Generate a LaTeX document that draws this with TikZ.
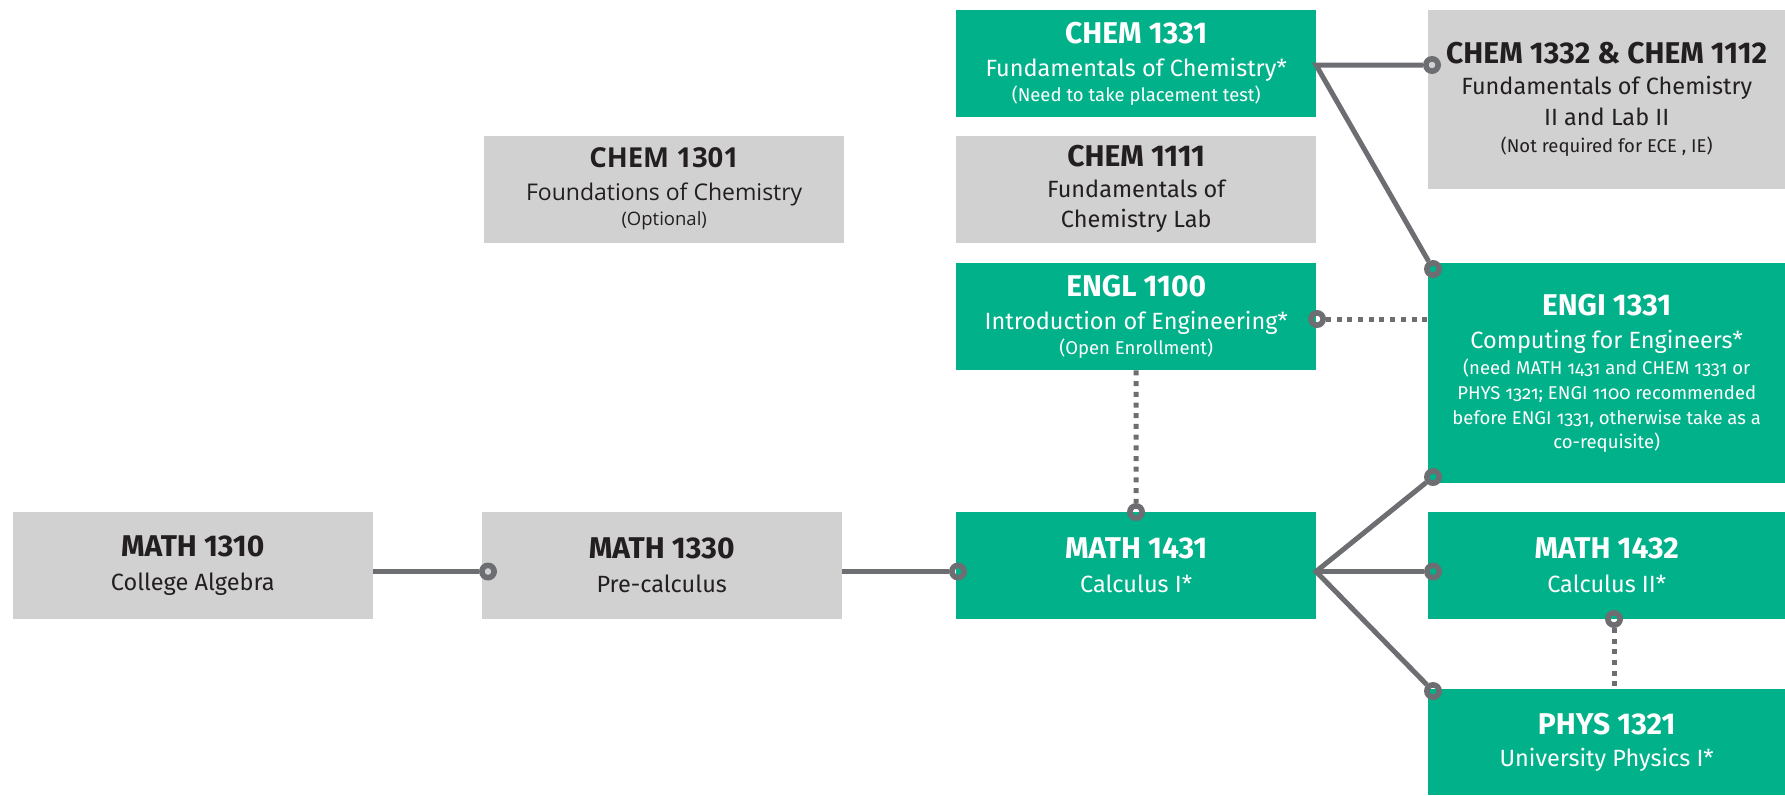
\documentclass[tikz,border=0pt]{standalone}
\usepackage{fontspec}
\setmainfont{Fira Sans}
\newfontfamily\opensans{Open Sans}
\definecolor{grn}{HTML}{00B18A}
\definecolor{gry}{HTML}{D1D1D1}
\definecolor{lnc}{HTML}{6D6E71}
\definecolor{txt}{HTML}{231F20}
\newcommand\ttl[1]{{\fontsize{30}{30}\selectfont\bfseries #1}}
\newcommand\sbt[1]{{\fontsize{23.5}{23.5}\selectfont #1}}
\newcommand\sml[1]{{\fontsize{18.5}{18.5}\selectfont\addfontfeatures{Numbers=OldStyle}#1}}
\newcommand\ottl[1]{{\fontsize{27.5}{27.5}\selectfont\bfseries #1}}
\newcommand\osbt[1]{{\fontsize{23}{23}\selectfont #1}}
\newcommand\osml[1]{{\fontsize{18.5}{18.5}\selectfont #1}}
\begin{document}
\begin{tikzpicture}[x=1pt,y=-1pt,
  box/.style={minimum width=360pt, minimum height=107pt, inner sep=0pt, align=center, anchor=north west, font=\fontsize{16}{25}\selectfont},
  gbox/.style={box, fill=grn, text=white},
  pbox/.style={box, fill=gry, text=txt},
  conn/.style={draw=lnc, line width=5pt, line join=miter},
  dots/.style={draw=lnc, line width=5pt, dash pattern=on 5pt off 5.7pt},
  ring/.style={draw=lnc, line width=5.6pt, circle, minimum size=12.3pt, inner sep=0pt}
]
\useasboundingbox (0,0) rectangle (1785,795);

% boxes
\node[pbox] (m1310) at (12.5,512) {\ttl{MATH 1310}\\[9pt]\sbt{College Algebra}};
\node[pbox] (m1330) at (481.5,512) {\ttl{MATH 1330}\\[9pt]\sbt{Pre-calculus}};
\node[gbox] (m1431) at (956,512) {\ttl{MATH 1431}\\[9pt]\sbt{Calculus I*}};
\node[pbox, font=\opensans\fontsize{16}{25}\selectfont] (c1301) at (484,135.5) {\ottl{CHEM 1301}\\[8pt]\osbt{Foundations of Chemistry}\\\osml{(Optional)}};
\node[gbox] (c1331) at (956,10) {\ttl{CHEM 1331}\\[8pt]\sbt{Fundamentals of Chemistry*}\\\sml{(Need to take placement test)}};
\node[pbox] (c1111) at (956,135.5) {\ttl{CHEM 1111}\\[6pt]\sbt{Fundamentals of}\\[5pt]\sbt{Chemistry Lab}};
\node[gbox] (e1100) at (956,263) {\ttl{ENGL 1100}\\[8pt]\sbt{Introduction of Engineering*}\\\sml{(Open Enrollment)}};
\node[pbox, minimum width=357pt, minimum height=179pt] (c1332) at (1428,10)
  {\ttl{CHEM 1332 \& CHEM 1112}\\[6pt]\sbt{Fundamentals of Chemistry}\\[6pt]\sbt{II and Lab II}\\[2pt]\sml{(Not required for ECE , IE)}};
\node[gbox, minimum width=357pt, minimum height=220pt] (e1331) at (1428,263)
  {\ttl{ENGI 1331}\\[8pt]\sbt{Computing for Engineers*}\\[1pt]\sml{(need MATH 1431 and CHEM 1331 or}\\\sml{PHYS 1321; ENGI 1100 recommended}\\\sml{before ENGI 1331, otherwise take as a}\\[-1pt]\sml{co-requisite)}};
\node[gbox, minimum width=357pt] (m1432) at (1428,512) {\ttl{MATH 1432}\\[9pt]\sbt{Calculus II*}};
\node[gbox, minimum width=357pt, minimum height=106pt] (p1321) at (1428,689) {\ttl{PHYS 1321}\\[7pt]\sbt{University Physics I*}};

% connector end rings
\node[ring] (k1) at (488,571.5) {};
\node[ring] (k2) at (958,571.5) {};
\node[ring] (k3) at (1433,477) {};
\node[ring] (k4) at (1433,571.5) {};
\node[ring] (k5) at (1433,691) {};
\node[ring] (k6) at (1432,65) {};
\node[ring] (k7) at (1433,269) {};
\node[ring] (k8) at (1317,319) {};
\node[ring] (k9) at (1136,512) {};
\node[ring] (k10) at (1614,619) {};
\coordinate (fan) at (1316,571.5);
\coordinate (cfan) at (1316,65);

% connectors
\draw[conn] (m1310.east |- k1) -- (k1);
\draw[conn] (m1330.east |- k2) -- (k2);
\draw[conn] (k3) -- (fan) -- (k5);
\draw[conn] (fan) -- (k4);
\draw[conn] (k6) -- (cfan) -- (k7);
\draw[dots] (k8) -- (e1331.west |- k8);
\draw[dots] (e1100.south) -- (k9);
\draw[dots] (k10) -- (p1321.north -| k10);
\end{tikzpicture}
\end{document}
